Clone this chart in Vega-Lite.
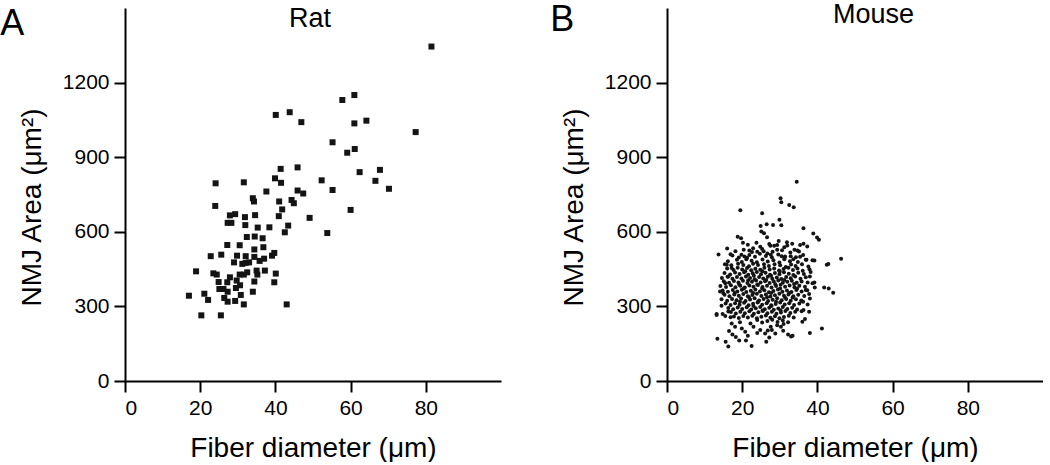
{
  "$schema": "https://vega.github.io/schema/vega-lite/v6.json",
  "padding": {"left": 0, "top": 0, "right": 0, "bottom": 0},
  "background": "white",
  "config": {
    "font": "Liberation Sans",
    "view": {"stroke": null},
    "axis": {
      "grid": false,
      "domainColor": "black", "domainWidth": 2,
      "tickColor": "black", "tickWidth": 2, "tickSize": 11,
      "labelFont": "Liberation Sans", "labelFontSize": 21, "labelColor": "black", "labelPadding": 5,
      "titleFont": "Liberation Sans", "titleFontSize": 28, "titleFontWeight": "normal", "titleColor": "black"
    },
    "title": {"font": "Liberation Sans", "fontSize": 36, "fontWeight": "normal", "color": "black"}
  },
  "datasets": {
    "rat": [
      {"diameter":41.4,"area":853},{"diameter":45.9,"area":859},{"diameter":24.1,"area":795},{"diameter":31.6,"area":799},{"diameter":39.9,"area":815},{"diameter":41.5,"area":797},{"diameter":37.6,"area":762},{"diameter":45.9,"area":766},{"diameter":47.4,"area":754},{"diameter":34.0,"area":735},{"diameter":34.3,"area":722},{"diameter":41.0,"area":722},{"diameter":44.3,"area":728},{"diameter":44.9,"area":715},{"diameter":24.0,"area":704},{"diameter":41.8,"area":690},{"diameter":27.9,"area":666},{"diameter":29.3,"area":671},{"diameter":31.9,"area":659},{"diameter":34.6,"area":667},{"diameter":40.9,"area":663},{"diameter":27.3,"area":636},{"diameter":28.3,"area":636},{"diameter":32.0,"area":627},{"diameter":35.3,"area":617},{"diameter":38.4,"area":618},{"diameter":43.4,"area":625},{"diameter":42.5,"area":598},{"diameter":32.4,"area":579},{"diameter":34.5,"area":581},{"diameter":36.6,"area":574},{"diameter":27.2,"area":547},{"diameter":30.5,"area":546},{"diameter":34.4,"area":529},{"diameter":36.8,"area":538},{"diameter":22.8,"area":502},{"diameter":25.6,"area":508},{"diameter":29.8,"area":504},{"diameter":32.1,"area":502},{"diameter":34.4,"area":499},{"diameter":37.0,"area":492},{"diameter":39.1,"area":504},{"diameter":39.7,"area":515},{"diameter":29.0,"area":477},{"diameter":31.2,"area":471},{"diameter":32.1,"area":475},{"diameter":33.0,"area":477},{"diameter":35.8,"area":483},{"diameter":18.9,"area":441},{"diameter":23.5,"area":433},{"diameter":24.4,"area":428},{"diameter":27.9,"area":417},{"diameter":30.5,"area":428},{"diameter":31.6,"area":428},{"diameter":32.5,"area":437},{"diameter":35.0,"area":444},{"diameter":35.2,"area":428},{"diameter":37.2,"area":444},{"diameter":40.1,"area":432},{"diameter":24.9,"area":398},{"diameter":27.2,"area":397},{"diameter":29.7,"area":404},{"diameter":34.4,"area":400},{"diameter":39.7,"area":397},{"diameter":25.1,"area":370},{"diameter":26.2,"area":370},{"diameter":27.3,"area":359},{"diameter":29.5,"area":374},{"diameter":30.6,"area":385},{"diameter":34.0,"area":359},{"diameter":17.0,"area":343},{"diameter":21.1,"area":351},{"diameter":22.1,"area":326},{"diameter":26.4,"area":334},{"diameter":27.3,"area":319},{"diameter":29.3,"area":322},{"diameter":30.8,"area":346},{"diameter":31.6,"area":308},{"diameter":43.0,"area":308},{"diameter":20.3,"area":264},{"diameter":25.5,"area":264},{"diameter":81.5,"area":1345},{"diameter":61.0,"area":1150},{"diameter":57.8,"area":1130},{"diameter":61.0,"area":1036},{"diameter":64.2,"area":1047},{"diameter":77.3,"area":1001},{"diameter":55.2,"area":960},{"diameter":59.1,"area":918},{"diameter":61.1,"area":933},{"diameter":40.1,"area":1070},{"diameter":43.8,"area":1081},{"diameter":46.9,"area":1041},{"diameter":67.8,"area":849},{"diameter":62.4,"area":840},{"diameter":52.3,"area":807},{"diameter":66.6,"area":805},{"diameter":55.2,"area":768},{"diameter":70.2,"area":773},{"diameter":60.0,"area":688},{"diameter":49.1,"area":656},{"diameter":53.8,"area":595}
    ],
    "mouse": [
      {"diameter":34.5,"area":801},{"diameter":30.2,"area":735},{"diameter":30.4,"area":719},{"diameter":32.5,"area":708},{"diameter":33.7,"area":699},{"diameter":19.5,"area":687},{"diameter":25.3,"area":675},{"diameter":29.9,"area":648},{"diameter":24.9,"area":623},{"diameter":26.5,"area":630},{"diameter":28.2,"area":627},{"diameter":30.4,"area":626},{"diameter":36.3,"area":614},{"diameter":25.1,"area":601},{"diameter":25.8,"area":594},{"diameter":38.9,"area":593},{"diameter":39.9,"area":577},{"diameter":40.4,"area":568},{"diameter":18.8,"area":580},{"diameter":19.7,"area":574},{"diameter":20.2,"area":556},{"diameter":26.6,"area":578},{"diameter":31.9,"area":558},{"diameter":29.7,"area":563},{"diameter":16.0,"area":533},{"diameter":13.7,"area":509},{"diameter":16.9,"area":510},{"diameter":46.3,"area":492},{"diameter":42.5,"area":467},{"diameter":38.7,"area":486},{"diameter":41.8,"area":376},{"diameter":43.0,"area":372},{"diameter":44.2,"area":355},{"diameter":38.7,"area":393},{"diameter":39.3,"area":376},{"diameter":41.2,"area":211},{"diameter":38.0,"area":193},{"diameter":13.2,"area":269},{"diameter":14.5,"area":303},{"diameter":13.4,"area":170},{"diameter":16.3,"area":139},{"diameter":22.5,"area":141},{"diameter":33.0,"area":179},{"diameter":36.7,"area":249},{"diameter":35.8,"area":280},{"diameter":37.8,"area":278},
      {"diameter":22.9,"area":534},{"diameter":21.9,"area":525},{"diameter":24.8,"area":540},{"diameter":19.8,"area":508},{"diameter":20.6,"area":501},{"diameter":21.3,"area":496},{"diameter":27.5,"area":544},{"diameter":28.5,"area":544},{"diameter":29.3,"area":528},{"diameter":27.6,"area":508},{"diameter":26.7,"area":513},{"diameter":25.7,"area":522},{"diameter":24.0,"area":520},
      {"diameter":29.3,"area":547},{"diameter":32.0,"area":545},{"diameter":33.3,"area":552},{"diameter":35.4,"area":547},{"diameter":36.3,"area":552},{"diameter":37.3,"area":541},{"diameter":34.7,"area":525},{"diameter":33.9,"area":528},{"diameter":30.5,"area":502},{"diameter":31.3,"area":496},{"diameter":32.9,"area":502},{"diameter":33.6,"area":490},{"diameter":35.4,"area":500},{"diameter":37.1,"area":488},{"diameter":39.2,"area":485},{"diameter":42.9,"area":471},
      {"diameter":38.0,"area":420},{"diameter":39.2,"area":396},{"diameter":36.9,"area":366},{"diameter":37.8,"area":350},{"diameter":38.0,"area":332},{"diameter":36.2,"area":319},{"diameter":37.4,"area":308},{"diameter":36.3,"area":286},{"diameter":36.0,"area":238},{"diameter":33.4,"area":182},{"diameter":32.2,"area":187},{"diameter":30.9,"area":202},{"diameter":30.3,"area":218},
      {"diameter":13.2,"area":265},{"diameter":14.8,"area":269},{"diameter":15.5,"area":261},{"diameter":16.3,"area":279},{"diameter":16.9,"area":256},{"diameter":17.2,"area":231},{"diameter":18.1,"area":218},{"diameter":19.4,"area":236},{"diameter":19.9,"area":211},{"diameter":16.5,"area":201},{"diameter":17.4,"area":187},{"diameter":18.3,"area":177},{"diameter":19.2,"area":163},{"diameter":15.6,"area":158},{"diameter":20.8,"area":198},{"diameter":21.5,"area":182},{"diameter":21.0,"area":163},{"diameter":24.0,"area":193},{"diameter":24.8,"area":205},{"diameter":26.1,"area":191},{"diameter":27.2,"area":175},{"diameter":26.4,"area":158},{"diameter":22.2,"area":231},{"diameter":23.0,"area":218},{"diameter":27.9,"area":205},{"diameter":28.8,"area":191},{"diameter":15.9,"area":467},{"diameter":17.2,"area":454},{"diameter":16.3,"area":420},{"diameter":15.5,"area":393},{"diameter":15.0,"area":353},{"diameter":14.1,"area":360},
      {"diameter":21.5,"area":548},{"diameter":23.8,"area":556},{"diameter":27.2,"area":551},{"diameter":31.2,"area":538},
      {"diameter":18.2,"area":522},{"diameter":20.4,"area":528},{"diameter":22.6,"area":519},{"diameter":25.3,"area":531},{"diameter":28.1,"area":520},{"diameter":30.6,"area":526},{"diameter":32.8,"area":517},{"diameter":35.1,"area":521},
      {"diameter":17.4,"area":505},{"diameter":19.1,"area":497},{"diameter":21.9,"area":507},{"diameter":23.4,"area":500},{"diameter":24.7,"area":512},{"diameter":26.3,"area":503},{"diameter":27.9,"area":498},{"diameter":29.6,"area":509},{"diameter":31.4,"area":501},{"diameter":34.3,"area":498},{"diameter":36.2,"area":507},
      {"diameter":16.2,"area":482},{"diameter":18.6,"area":488},{"diameter":19.9,"area":479},{"diameter":21.1,"area":490},{"diameter":22.5,"area":484},{"diameter":23.9,"area":478},{"diameter":25.4,"area":489},{"diameter":26.8,"area":481},{"diameter":28.3,"area":486},{"diameter":29.9,"area":477},{"diameter":31.2,"area":490},{"diameter":32.7,"area":482},{"diameter":34.8,"area":479},{"diameter":36.9,"area":488},
      {"diameter":15.4,"area":470},{"diameter":17.1,"area":465},{"diameter":18.9,"area":472},{"diameter":20.3,"area":466},{"diameter":21.8,"area":461},{"diameter":22.9,"area":472},{"diameter":24.2,"area":466},{"diameter":25.8,"area":470},{"diameter":27.1,"area":462},{"diameter":28.6,"area":470},{"diameter":30.1,"area":465},{"diameter":31.6,"area":458},{"diameter":33.0,"area":468},{"diameter":34.2,"area":462},{"diameter":35.9,"area":470},{"diameter":37.6,"area":460},
      {"diameter":16.0,"area":452},{"diameter":17.7,"area":446},{"diameter":18.8,"area":455},{"diameter":20.0,"area":448},{"diameter":21.3,"area":454},{"diameter":22.4,"area":445},{"diameter":23.5,"area":451},{"diameter":24.8,"area":447},{"diameter":25.9,"area":455},{"diameter":27.3,"area":448},{"diameter":28.5,"area":452},{"diameter":29.8,"area":444},{"diameter":31.0,"area":450},{"diameter":32.3,"area":455},{"diameter":33.5,"area":446},{"diameter":34.7,"area":452},{"diameter":36.1,"area":443},{"diameter":37.9,"area":449},
      {"diameter":15.3,"area":434},{"diameter":16.8,"area":428},{"diameter":18.1,"area":436},{"diameter":19.3,"area":430},{"diameter":20.5,"area":437},{"diameter":21.6,"area":427},{"diameter":22.8,"area":433},{"diameter":23.9,"area":438},{"diameter":25.0,"area":429},{"diameter":26.2,"area":435},{"diameter":27.4,"area":427},{"diameter":28.7,"area":434},{"diameter":29.9,"area":429},{"diameter":31.1,"area":437},{"diameter":32.4,"area":431},{"diameter":33.6,"area":426},{"diameter":34.9,"area":435},{"diameter":36.4,"area":430},{"diameter":38.2,"area":438},
      {"diameter":14.6,"area":414},{"diameter":16.1,"area":419},{"diameter":17.4,"area":411},{"diameter":18.6,"area":418},{"diameter":19.8,"area":412},{"diameter":21.0,"area":420},{"diameter":22.1,"area":414},{"diameter":23.3,"area":409},{"diameter":24.5,"area":418},{"diameter":25.6,"area":412},{"diameter":26.8,"area":419},{"diameter":28.0,"area":411},{"diameter":29.2,"area":416},{"diameter":30.4,"area":410},{"diameter":31.7,"area":418},{"diameter":32.9,"area":413},{"diameter":34.1,"area":420},{"diameter":35.5,"area":411},{"diameter":36.9,"area":417},
      {"diameter":15.1,"area":401},{"diameter":16.5,"area":395},{"diameter":17.8,"area":402},{"diameter":19.0,"area":396},{"diameter":20.2,"area":403},{"diameter":21.4,"area":394},{"diameter":22.6,"area":399},{"diameter":23.7,"area":404},{"diameter":24.9,"area":396},{"diameter":26.1,"area":401},{"diameter":27.3,"area":394},{"diameter":28.4,"area":400},{"diameter":29.6,"area":404},{"diameter":30.8,"area":395},{"diameter":32.0,"area":399},{"diameter":33.2,"area":403},{"diameter":34.5,"area":395},{"diameter":35.8,"area":400},{"diameter":37.4,"area":396},
      {"diameter":14.2,"area":382},{"diameter":15.7,"area":378},{"diameter":17.0,"area":385},{"diameter":18.2,"area":377},{"diameter":19.5,"area":383},{"diameter":20.7,"area":376},{"diameter":21.9,"area":384},{"diameter":23.0,"area":379},{"diameter":24.2,"area":386},{"diameter":25.4,"area":378},{"diameter":26.6,"area":383},{"diameter":27.8,"area":376},{"diameter":29.0,"area":382},{"diameter":30.2,"area":387},{"diameter":31.4,"area":379},{"diameter":32.6,"area":384},{"diameter":33.9,"area":377},{"diameter":35.2,"area":383},{"diameter":36.7,"area":379},
      {"diameter":14.8,"area":364},{"diameter":16.2,"area":359},{"diameter":17.5,"area":366},{"diameter":18.7,"area":360},{"diameter":19.9,"area":367},{"diameter":21.1,"area":358},{"diameter":22.3,"area":363},{"diameter":23.5,"area":368},{"diameter":24.7,"area":360},{"diameter":25.9,"area":365},{"diameter":27.1,"area":357},{"diameter":28.3,"area":362},{"diameter":29.5,"area":368},{"diameter":30.7,"area":359},{"diameter":31.9,"area":364},{"diameter":33.1,"area":358},{"diameter":34.4,"area":366},{"diameter":35.8,"area":360},{"diameter":37.3,"area":365},
      {"diameter":15.3,"area":347},{"diameter":16.6,"area":341},{"diameter":17.9,"area":348},{"diameter":19.1,"area":343},{"diameter":20.3,"area":350},{"diameter":21.5,"area":341},{"diameter":22.7,"area":346},{"diameter":23.9,"area":351},{"diameter":25.1,"area":342},{"diameter":26.3,"area":348},{"diameter":27.5,"area":340},{"diameter":28.7,"area":345},{"diameter":29.9,"area":351},{"diameter":31.1,"area":343},{"diameter":32.3,"area":348},{"diameter":33.6,"area":341},{"diameter":34.9,"area":347},{"diameter":36.5,"area":342},
      {"diameter":14.5,"area":329},{"diameter":16.0,"area":323},{"diameter":17.3,"area":330},{"diameter":18.5,"area":325},{"diameter":19.7,"area":332},{"diameter":20.9,"area":322},{"diameter":22.1,"area":328},{"diameter":23.3,"area":333},{"diameter":24.5,"area":324},{"diameter":25.7,"area":330},{"diameter":26.9,"area":322},{"diameter":28.1,"area":327},{"diameter":29.3,"area":333},{"diameter":30.5,"area":325},{"diameter":31.7,"area":330},{"diameter":32.9,"area":323},{"diameter":34.3,"area":329},{"diameter":35.7,"area":324},
      {"diameter":15.6,"area":312},{"diameter":16.9,"area":306},{"diameter":18.1,"area":313},{"diameter":19.3,"area":307},{"diameter":20.5,"area":315},{"diameter":21.7,"area":305},{"diameter":22.9,"area":311},{"diameter":24.1,"area":316},{"diameter":25.3,"area":307},{"diameter":26.5,"area":313},{"diameter":27.7,"area":305},{"diameter":28.9,"area":310},{"diameter":30.1,"area":316},{"diameter":31.3,"area":308},{"diameter":32.5,"area":313},{"diameter":33.8,"area":306},{"diameter":35.2,"area":312},
      {"diameter":16.3,"area":294},{"diameter":17.6,"area":289},{"diameter":18.8,"area":296},{"diameter":20.0,"area":290},{"diameter":21.2,"area":297},{"diameter":22.4,"area":288},{"diameter":23.6,"area":293},{"diameter":24.8,"area":298},{"diameter":26.0,"area":289},{"diameter":27.2,"area":295},{"diameter":28.4,"area":287},{"diameter":29.6,"area":292},{"diameter":30.8,"area":298},{"diameter":32.0,"area":290},{"diameter":33.3,"area":295},{"diameter":34.6,"area":288},
      {"diameter":17.0,"area":277},{"diameter":18.3,"area":271},{"diameter":19.5,"area":278},{"diameter":20.7,"area":272},{"diameter":21.9,"area":280},{"diameter":23.1,"area":270},{"diameter":24.3,"area":276},{"diameter":25.5,"area":281},{"diameter":26.7,"area":272},{"diameter":27.9,"area":278},{"diameter":29.1,"area":270},{"diameter":30.3,"area":275},{"diameter":31.5,"area":281},{"diameter":32.8,"area":273},{"diameter":34.1,"area":278},
      {"diameter":17.8,"area":259},{"diameter":19.1,"area":253},{"diameter":20.3,"area":261},{"diameter":21.5,"area":255},{"diameter":22.7,"area":262},{"diameter":23.9,"area":252},{"diameter":25.1,"area":258},{"diameter":26.3,"area":263},{"diameter":27.5,"area":254},{"diameter":28.7,"area":260},{"diameter":29.9,"area":252},{"diameter":31.1,"area":257},{"diameter":32.4,"area":262},{"diameter":33.7,"area":255},
      {"diameter":24.0,"area":245},{"diameter":25.3,"area":235},{"diameter":26.7,"area":241},{"diameter":28.0,"area":246},{"diameter":29.4,"area":237},{"diameter":30.8,"area":243},{"diameter":32.2,"area":236},{"diameter":27.6,"area":218},{"diameter":29.3,"area":224},{"diameter":31.0,"area":229},{"diameter":26.8,"area":203},
      {"diameter":20.8,"area":441},{"diameter":23.1,"area":423},{"diameter":25.4,"area":441},{"diameter":27.7,"area":423},{"diameter":30.0,"area":440},{"diameter":21.6,"area":405},{"diameter":24.0,"area":388},{"diameter":26.4,"area":406},{"diameter":28.8,"area":389},{"diameter":31.2,"area":406},{"diameter":20.4,"area":372},{"diameter":22.9,"area":354},{"diameter":25.3,"area":372},{"diameter":27.7,"area":354},{"diameter":30.1,"area":372},{"diameter":32.5,"area":354},{"diameter":21.8,"area":337},{"diameter":24.2,"area":319},{"diameter":26.6,"area":337},{"diameter":29.0,"area":319},{"diameter":31.4,"area":336},{"diameter":23.0,"area":302},{"diameter":25.4,"area":284},{"diameter":27.8,"area":302},{"diameter":30.2,"area":285},{"diameter":19.2,"area":388},{"diameter":18.0,"area":354},{"diameter":19.4,"area":319},{"diameter":33.8,"area":390},{"diameter":34.6,"area":372},{"diameter":33.4,"area":336}
    ]
  },
  "bounds": "flush",
  "spacing": 166,
  "hconcat": [
    {
      "width": 376,
      "height": 373,
      "title": {"text": "A", "anchor": "start", "frame": "bounds", "baseline": "alphabetic", "offset": -22, "dx": -18, "dy": 44},
      "layer": [
        {
          "data": {"name": "rat"},
          "mark": {"type": "point", "shape": "square", "filled": true, "size": 36, "color": "#141414", "opacity": 1},
          "encoding": {
            "x": {"field": "diameter", "type": "quantitative", "scale": {"domain": [0, 100], "nice": false}, "axis": {"values": [0, 20, 40, 60, 80], "format": "d", "title": "Fiber diameter (μm)", "titlePadding": 16}},
            "y": {"field": "area", "type": "quantitative", "scale": {"domain": [0, 1500], "nice": false}, "axis": {"values": [0, 300, 600, 900, 1200], "format": "d", "title": "NMJ Area (μm²)", "titlePadding": 16, "titleY": 199}}
          }
        },
        {
          "data": {"values": [{}]},
          "mark": {"type": "text", "font": "Liberation Sans", "fontSize": 27, "baseline": "alphabetic", "align": "center", "color": "black"},
          "encoding": {"x": {"datum": 49.2}, "y": {"datum": 1424}, "text": {"value": "Rat"}}
        }
      ]
    },
    {
      "width": 376,
      "height": 373,
      "title": {"text": "B", "anchor": "start", "frame": "bounds", "baseline": "alphabetic", "offset": -22, "dx": -10, "dy": 44},
      "layer": [
        {
          "data": {"name": "mouse"},
          "mark": {"type": "point", "shape": "circle", "filled": true, "size": 16, "color": "#141414", "opacity": 1},
          "encoding": {
            "x": {"field": "diameter", "type": "quantitative", "scale": {"domain": [0, 100], "nice": false}, "axis": {"values": [0, 20, 40, 60, 80], "format": "d", "title": "Fiber diameter (μm)", "titlePadding": 16}},
            "y": {"field": "area", "type": "quantitative", "scale": {"domain": [0, 1500], "nice": false}, "axis": {"values": [0, 300, 600, 900, 1200], "format": "d", "title": "NMJ Area (μm²)", "titlePadding": 16, "titleY": 199}}
          }
        },
        {
          "data": {"values": [{}]},
          "mark": {"type": "text", "font": "Liberation Sans", "fontSize": 27, "baseline": "alphabetic", "align": "center", "color": "black"},
          "encoding": {"x": {"datum": 54.9}, "y": {"datum": 1441}, "text": {"value": "Mouse"}}
        }
      ]
    }
  ]
}
